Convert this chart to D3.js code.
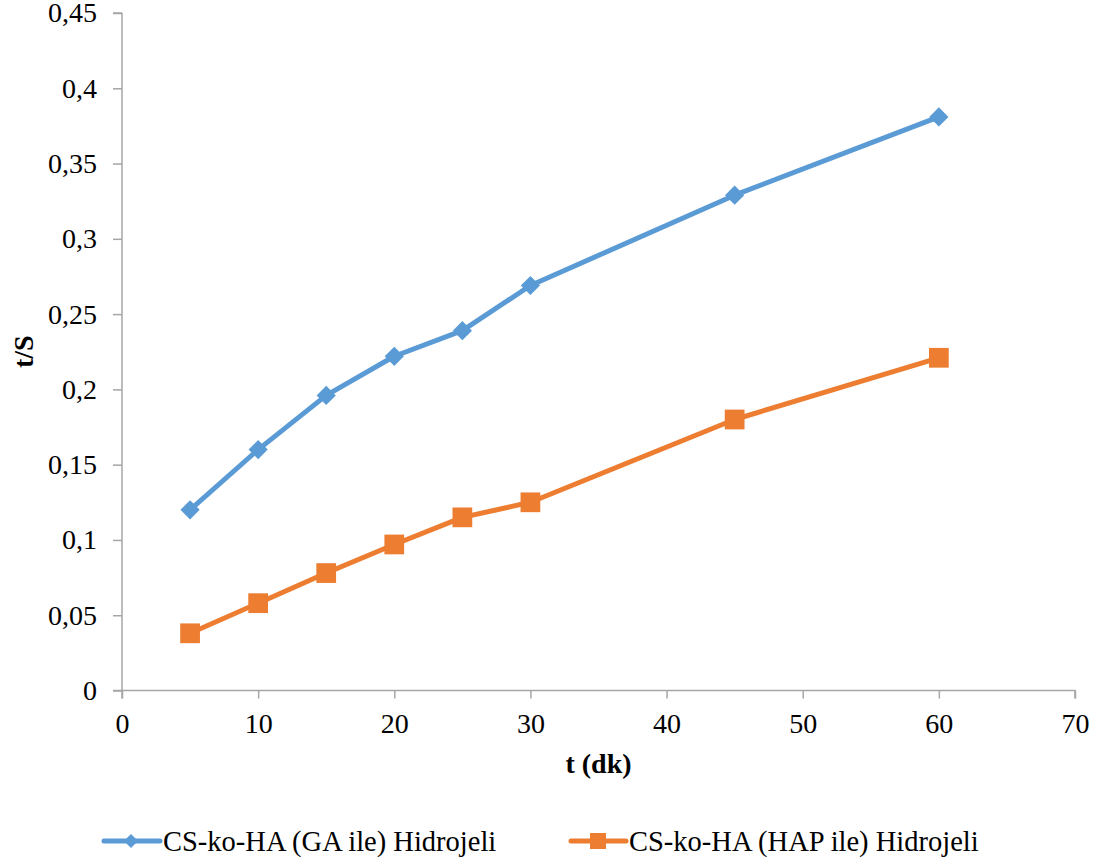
<!DOCTYPE html>
<html>
<head>
<meta charset="utf-8">
<script src="https://cdn.jsdelivr.net/npm/d3@7"></script>
<style>
  @font-face { font-family: "ChartSerif"; font-weight: 400; src: local("Liberation Serif"), local("LiberationSerif"), local("Tinos"), local("Times New Roman"); }
  @font-face { font-family: "ChartSerif"; font-weight: 700; src: local("Liberation Serif Bold"), local("LiberationSerif-Bold"), local("Tinos Bold"), local("Times New Roman Bold"); }
  html, body { margin: 0; padding: 0; background: #fff; }
  svg { display: block; }
  #chart text { font-family: "Liberation Serif", "ChartSerif", Tinos, "Times New Roman", serif; }
</style>
</head>
<body>
<svg id="chart" width="1099" height="865"></svg>
<script>
// Time points (minutes) and t/S values for the two hydrogels
const times = [5, 10, 15, 20, 25, 30, 45, 60];
const gaValues = [0.12, 0.16, 0.196, 0.222, 0.239, 0.269, 0.329, 0.381];
const hapValues = [0.038, 0.058, 0.078, 0.097, 0.115, 0.125, 0.18, 0.221];
const seriesNames = ["CS-ko-HA (GA ile) Hidrojeli", "CS-ko-HA (HAP ile) Hidrojeli"];
const xTicks = [0, 10, 20, 30, 40, 50, 60, 70];
const yTicks = [0, 0.05, 0.1, 0.15, 0.2, 0.25, 0.3, 0.35, 0.4, 0.45];
const xTitle = "t (dk)";
const yTitle = "t/S";

const colors = ["#5B9BD5", "#ED7D31"];
const axisColor = "#a6a6a6";

const svg = d3.select("#chart");
const m = { left: 122, right: 1075, top: 13, bottom: 690.5 };

// serif face and size for a text selection
const serifText = (s, size, weight) => s
  .attr("font-family", "Liberation Serif")
  .attr("font-size", size)
  .attr("font-weight", weight || "normal")
  .style("font-size", size + "px")
  .style("font-weight", weight || "normal");

const x = d3.scaleLinear().domain([0, 70]).range([m.left, m.right]);
const y = d3.scaleLinear().domain([0, 0.45]).range([m.bottom, m.top]);

const fmt = d => String(+d.toFixed(2)).replace(".", ",");

// Y axis
const yAxis = svg.append("g")
  .attr("transform", `translate(${m.left},0)`)
  .call(d3.axisLeft(y).tickValues(yTicks).tickSize(9).tickPadding(16).tickFormat(fmt));
// X axis
const xAxis = svg.append("g")
  .attr("transform", `translate(0,${m.bottom})`)
  .call(d3.axisBottom(x).tickValues(xTicks).tickSize(8).tickPadding(15).tickFormat(d => d));

[yAxis, xAxis].forEach(g => {
  g.attr("font-family", null).attr("font-size", null);
  g.select(".domain").attr("stroke", axisColor).attr("stroke-width", 1.5);
  g.selectAll(".tick line").attr("stroke", axisColor).attr("stroke-width", 1.5);
  g.selectAll(".tick text").attr("fill", "#000").call(serifText, 28);
});
// x axis line runs out to the left tick stub; end caps on both axes
xAxis.select(".domain").attr("d", `M${m.left - 9},0H${m.right}V8`);
yAxis.select(".domain").attr("d", `M0,${m.top}H-9M0,${m.top}V${m.bottom + 8}`);
xAxis.selectAll(".tick").filter(d => d === 0).select("line").attr("y2", 8);

// Axis titles
svg.append("text")
  .attr("x", (m.left + m.right) / 2)
  .attr("y", 773)
  .attr("text-anchor", "middle")
  .attr("fill", "#000")
  .call(serifText, 28, "bold")
  .text(xTitle);
svg.append("text")
  .attr("transform", `translate(33,${(m.top + m.bottom) / 2}) rotate(-90)`)
  .attr("text-anchor", "middle")
  .attr("fill", "#000")
  .call(serifText, 28, "bold")
  .text(yTitle);

const line = d3.line().x(d => x(d[0])).y(d => y(d[1]));
const data = [
  times.map((t, i) => [t, gaValues[i]]),
  hapValues.map((v, i) => [times[i], v])
];

const diamond = d3.symbol().type(d3.symbolSquare).size(185);
const square = d3.symbol().type(d3.symbolSquare).size(390);

data.forEach((pts, si) => {
  svg.append("path")
    .datum(pts)
    .attr("fill", "none")
    .attr("stroke", colors[si])
    .attr("stroke-width", 5)
    .attr("stroke-linejoin", "round")
    .attr("d", line);
  svg.append("g").selectAll("path")
    .data(pts)
    .join("path")
    .attr("fill", colors[si])
    .attr("d", si === 0 ? diamond() : square())
    .attr("transform", d => `translate(${x(d[0])},${y(d[1])})` + (si === 0 ? " rotate(45)" : ""));
});

// Legend
const legendItems = [
  { x0: 104, x1: 160, cx: 131, tx: 163 },
  { x0: 571, x1: 626, cx: 598, tx: 629 }
];
const ly = 841;
legendItems.forEach((it, i) => {
  const g = svg.append("g");
  g.append("line")
    .attr("x1", it.x0).attr("x2", it.x1)
    .attr("y1", ly).attr("y2", ly)
    .attr("stroke", colors[i]).attr("stroke-width", 5)
    .attr("stroke-linecap", "round");
  g.append("path")
    .attr("fill", colors[i])
    .attr("d", i === 0 ? d3.symbol().type(d3.symbolSquare).size(100)() : d3.symbol().type(d3.symbolSquare).size(256)())
    .attr("transform", `translate(${it.cx},${ly})` + (i === 0 ? " rotate(45)" : ""));
  g.append("text")
    .attr("x", it.tx)
    .attr("y", 851)
    .attr("fill", "#000")
    .call(serifText, 28.5)
    .text(seriesNames[i]);
});
</script>
</body>
</html>
